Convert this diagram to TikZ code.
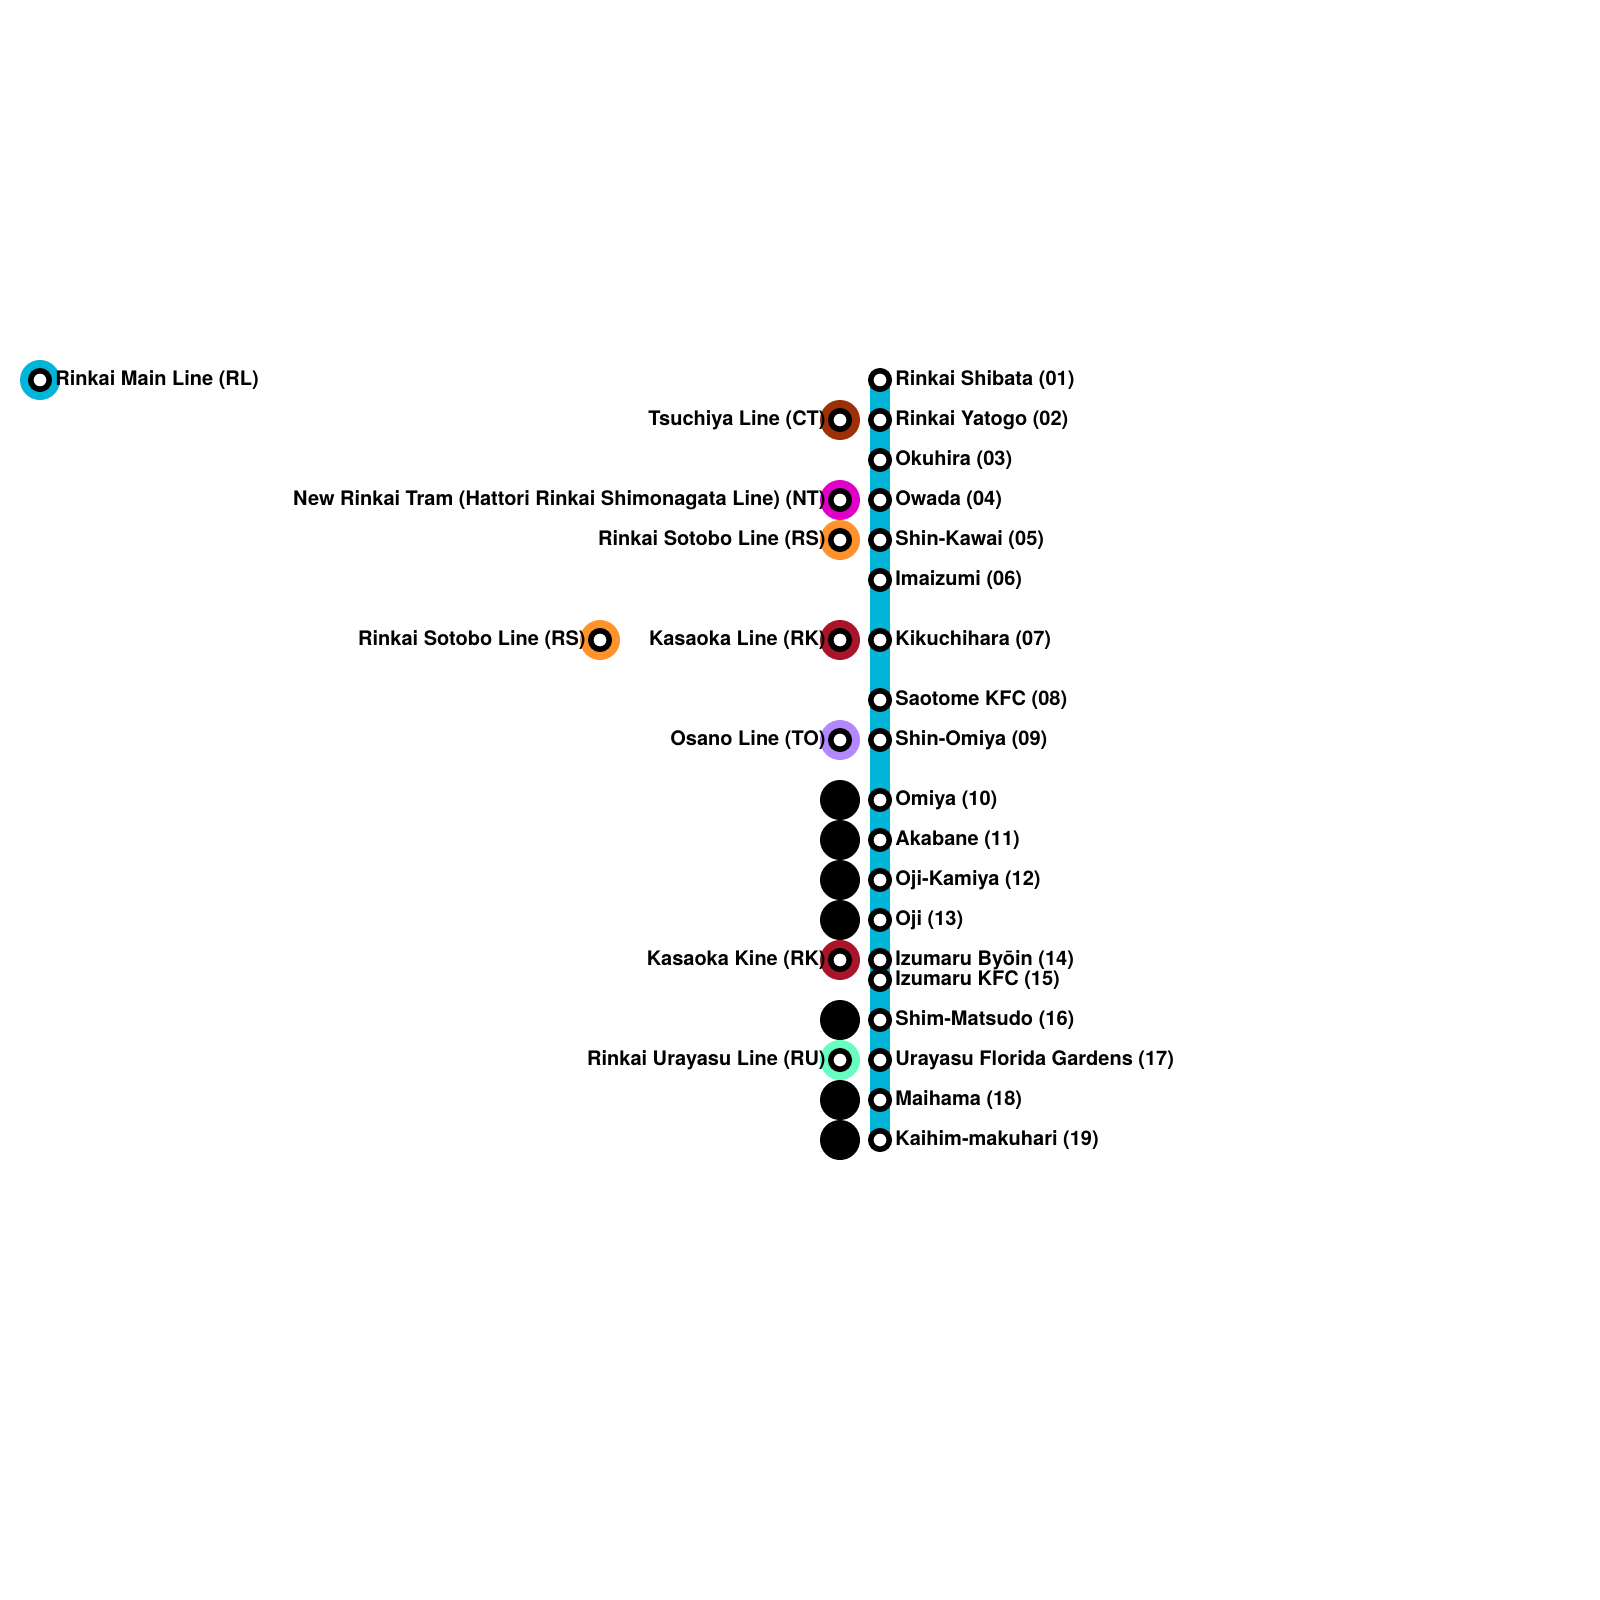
\documentclass[tikz,border=0pt]{standalone}
\usepackage{fontspec}
\setmainfont{TeX Gyre Heros}
\definecolor{rlblue}{HTML}{00B5D8}
\definecolor{ctbrown}{HTML}{9C3006}
\definecolor{ntpink}{HTML}{E000C8}
\definecolor{rsorange}{HTML}{FF922B}
\definecolor{rkred}{HTML}{A81428}
\definecolor{tolilac}{HTML}{B388FF}
\definecolor{rugreen}{HTML}{66FFC0}
\tikzset{
	stn/.style={circle, draw=black, fill=white, line width=2.75pt, inner sep=0pt, minimum size=9.25pt},
	xfer/.style={circle, fill=#1, inner sep=0pt, minimum size=20pt},
	east lbl/.style={anchor=base west, inner sep=0pt, font=\bfseries\fontsize{10}{12}\selectfont},
	west lbl/.style={anchor=base east, inner sep=0pt, font=\bfseries\fontsize{10}{12}\selectfont},
}
\begin{document}
\begin{tikzpicture}[x=0.5pt, y=-0.5pt]
	\useasboundingbox (0,0) rectangle (1600,1600);
	% Main line
	\coordinate (linetop) at (880,380);
	\coordinate (linebot) at (880,1140);
	\draw[rlblue, line width=10pt] (linetop) -- (linebot);
	% Interchange discs
	\node[xfer=rlblue] (xrl) at (40,380) {};
	\node[xfer=ctbrown] (xct) at (840,420) {};
	\node[xfer=ntpink] (xnt) at (840,500) {};
	\node[xfer=rsorange] (xrs) at (840,540) {};
	\node[xfer=rsorange] (xrsb) at (600,640) {};
	\node[xfer=rkred] (xrk) at (840,640) {};
	\node[xfer=tolilac] (xto) at (840,740) {};
	\node[xfer=black] (xa) at (840,800) {};
	\node[xfer=black] (xb) at (840,840) {};
	\node[xfer=black] (xc) at (840,880) {};
	\node[xfer=black] (xd) at (840,920) {};
	\node[xfer=rkred] (xrkb) at (840,960) {};
	\node[xfer=black] (xe) at (840,1020) {};
	\node[xfer=rugreen] (xru) at (840,1060) {};
	\node[xfer=black] (xf) at (840,1100) {};
	\node[xfer=black] (xg) at (840,1140) {};
	% Interchange stations
	\node[stn] (rl) at (40,380) {};
	\node[stn] (ct) at (840,420) {};
	\node[stn] (nt) at (840,500) {};
	\node[stn] (rs) at (840,540) {};
	\node[stn] (rsb) at (600,640) {};
	\node[stn] (rk) at (840,640) {};
	\node[stn] (to) at (840,740) {};
	\node[stn] (rkb) at (840,960) {};
	\node[stn] (ru) at (840,1060) {};
	% Stations on the line
	\node[stn] (s01) at (880,380) {};
	\node[stn] (s02) at (880,420) {};
	\node[stn] (s03) at (880,460) {};
	\node[stn] (s04) at (880,500) {};
	\node[stn] (s05) at (880,540) {};
	\node[stn] (s06) at (880,580) {};
	\node[stn] (s07) at (880,640) {};
	\node[stn] (s08) at (880,700) {};
	\node[stn] (s09) at (880,740) {};
	\node[stn] (s10) at (880,800) {};
	\node[stn] (s11) at (880,840) {};
	\node[stn] (s12) at (880,880) {};
	\node[stn] (s13) at (880,920) {};
	\node[stn] (s14) at (880,960) {};
	\node[stn] (s15) at (880,980) {};
	\node[stn] (s16) at (880,1020) {};
	\node[stn] (s17) at (880,1060) {};
	\node[stn] (s18) at (880,1100) {};
	\node[stn] (s19) at (880,1140) {};
	% Station names
	\node[east lbl] (t01) at (895,385) {Rinkai Shibata (01)};
	\node[east lbl] (t02) at (895,425) {Rinkai Yatogo (02)};
	\node[east lbl] (t03) at (895,465) {Okuhira (03)};
	\node[east lbl] (t04) at (895,505) {Owada (04)};
	\node[east lbl] (t05) at (895,545) {Shin-Kawai (05)};
	\node[east lbl] (t06) at (895,585) {Imaizumi (06)};
	\node[east lbl] (t07) at (895,645) {Kikuchihara (07)};
	\node[east lbl] (t08) at (895,705) {Saotome KFC (08)};
	\node[east lbl] (t09) at (895,745) {Shin-Omiya (09)};
	\node[east lbl] (t10) at (895,805) {Omiya (10)};
	\node[east lbl] (t11) at (895,845) {Akabane (11)};
	\node[east lbl] (t12) at (895,885) {Oji-Kamiya (12)};
	\node[east lbl] (t13) at (895,925) {Oji (13)};
	\node[east lbl] (t14) at (895,965) {Izumaru Byōin (14)};
	\node[east lbl] (t15) at (895,985) {Izumaru KFC (15)};
	\node[east lbl] (t16) at (895,1025) {Shim-Matsudo (16)};
	\node[east lbl] (t17) at (895,1065) {Urayasu Florida Gardens (17)};
	\node[east lbl] (t18) at (895,1105) {Maihama (18)};
	\node[east lbl] (t19) at (895,1145) {Kaihim-makuhari (19)};
	% Line names
	\node[east lbl] (trl) at (55,385) {Rinkai Main Line (RL)};
	\node[west lbl] (tct) at (826,425) {Tsuchiya Line (CT)};
	\node[west lbl] (tnt) at (826,505) {New Rinkai Tram (Hattori Rinkai Shimonagata Line) (NT)};
	\node[west lbl] (trs) at (826,545) {Rinkai Sotobo Line (RS)};
	\node[west lbl] (trsb) at (586,645) {Rinkai Sotobo Line (RS)};
	\node[west lbl] (trk) at (826,645) {Kasaoka Line (RK)};
	\node[west lbl] (tto) at (826,745) {Osano Line (TO)};
	\node[west lbl] (trkb) at (826,965) {Kasaoka Kine (RK)};
	\node[west lbl] (tru) at (826,1065) {Rinkai Urayasu Line (RU)};
\end{tikzpicture}
\end{document}
